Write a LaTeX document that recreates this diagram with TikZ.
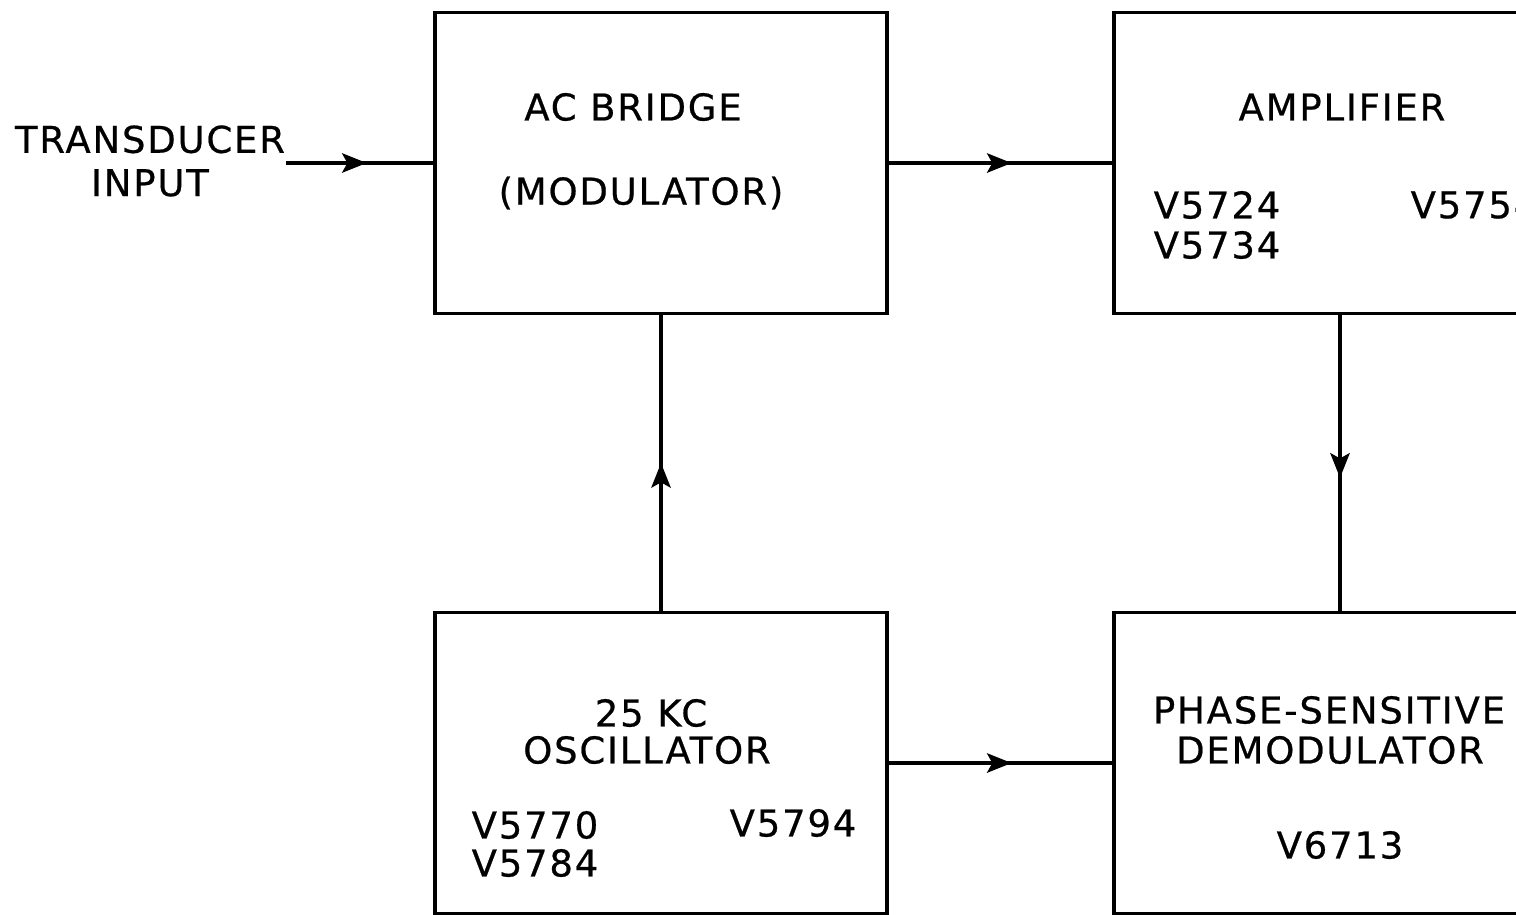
\documentclass[tikz,border=0pt]{standalone}
\usepackage{fontspec}
\setmainfont{DejaVu Sans}[LetterSpace=5, FakeBold=0.6]
\usetikzlibrary{arrows.meta, decorations.markings, positioning}

\begin{document}
\begin{tikzpicture}[
    x=0.01cm, y=-0.01cm,
    block/.style={rectangle, draw=black, line width=1pt, minimum width=4.52cm, minimum height=3.01cm, inner sep=0pt},
    lbl/.style={font=\fontsize{10.5}{12.3}\selectfont, inner sep=0pt},
    flow/.style={line width=1pt, postaction={decorate}, decoration={markings, mark=at position #1 with {\arrow{Stealth[length=7pt, width=5.5pt, inset=1.5pt]}}}},
    flow/.default=0.55
  ]
  \useasboundingbox (0,0) rectangle (1516,914);
  \clip (0,0) rectangle (1516,914);

  % Blocks
  \node[block] (bridge) at (661,163) {};
  \node[block] (amp) at (1340,163) {};
  \node[block] (osc) at (661,763) {};
  \node[block] (demod) at (1340,763) {};

  % Texts
  \node[lbl, align=center] (input) at (150,161) {TRANSDUCER\\INPUT};
  \node[lbl] (bridgename) at (633,107) {AC BRIDGE};
  \node[lbl] (bridgemod) at (641,193) {(MODULATOR)};
  \node[lbl] (ampname) at (1342,107) {AMPLIFIER};
  \node[lbl, anchor=west] (ampva) at (1153,205) {V5724};
  \node[lbl, anchor=west] (ampvb) at (1153,245) {V5734};
  \node[lbl, anchor=west] (ampvc) at (1410,205) {V5754};
  \node[lbl] (oscfreq) at (651,713) {25 KC};
  \node[lbl] (oscname) at (647,750) {OSCILLATOR};
  \node[lbl, anchor=west] (oscva) at (471,825) {V5770};
  \node[lbl, anchor=west] (oscvb) at (471,863) {V5784};
  \node[lbl, anchor=west] (oscvc) at (729,823) {V5794};
  \node[lbl] (demodname) at (1329,710) {PHASE-SENSITIVE};
  \node[lbl] (demodsub) at (1330,750) {DEMODULATOR};
  \node[lbl] (demodv) at (1340,845) {V6713};

  % Arrows
  \draw[flow] (input.east |- bridge.west) -- (bridge.west);
  \draw[flow] (bridge.east) -- (amp.west);
  \draw[flow=0.5] (osc.north) -- (bridge.south);
  \draw[flow] (amp.south) -- (demod.north);
  \draw[flow] (osc.east) -- (demod.west);
\end{tikzpicture}
\end{document}
